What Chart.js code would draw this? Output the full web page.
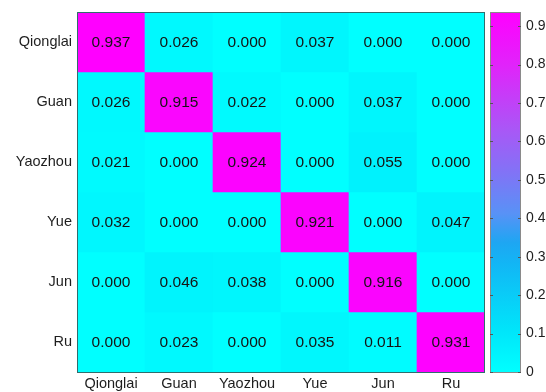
<!DOCTYPE html>
<html>
<head>
<meta charset="utf-8">
<script src="https://cdn.jsdelivr.net/npm/chart.js@4/dist/chart.umd.min.js"></script>
<style>
  html, body { margin: 0; padding: 0; background: #fff; }
  #wrap { width: 546px; height: 392px; }
</style>
</head>
<body>
<div id="wrap"><canvas id="cm" width="546" height="392"></canvas></div>
<script>
// Kiln classes (rows = actual, columns = predicted)
const categories = ['Qionglai', 'Guan', 'Yaozhou', 'Yue', 'Jun', 'Ru'];
const rowQionglai = [0.937, 0.026, 0.000, 0.037, 0.000, 0.000];
const rowGuan     = [0.026, 0.915, 0.022, 0.000, 0.037, 0.000];
const rowYaozhou  = [0.021, 0.000, 0.924, 0.000, 0.055, 0.000];
const rowYue      = [0.032, 0.000, 0.000, 0.921, 0.000, 0.047];
const rowJun      = [0.000, 0.046, 0.038, 0.000, 0.916, 0.000];
const rowRu       = [0.000, 0.023, 0.000, 0.035, 0.011, 0.931];
const colorbarTicks = [0, 0.1, 0.2, 0.3, 0.4, 0.5, 0.6, 0.7, 0.8, 0.9];

const rows = [rowQionglai, rowGuan, rowYaozhou, rowYue, rowJun, rowRu];
const vmax = Math.max(...rows.flat());

// colormap: fraction of range -> rgb (cyan through blue/violet to magenta)
const cmapStops = [
  [0.00, [0, 255, 255]],
  [0.12, [0, 228, 250]],
  [0.30, [18, 182, 245]],
  [0.36, [30, 166, 242]],
  [0.44, [88, 146, 246]],
  [0.55, [128, 116, 246]],
  [0.67, [168, 88, 246]],
  [0.85, [224, 36, 250]],
  [1.00, [255, 0, 255]]
];
function cmap(t) {
  t = Math.max(0, Math.min(1, t));
  for (let i = 1; i < cmapStops.length; i++) {
    const [t1, c1] = cmapStops[i];
    const [t0, c0] = cmapStops[i - 1];
    if (t <= t1) {
      const f = (t - t0) / (t1 - t0);
      const c = c0.map((a, k) => Math.round(a + (c1[k] - a) * f));
      return `rgb(${c[0]},${c[1]},${c[2]})`;
    }
  }
  const c = cmapStops[cmapStops.length - 1][1];
  return `rgb(${c[0]},${c[1]},${c[2]})`;
}

// one floating-bar dataset per matrix row, spanning [r, r+1] on the row axis
const datasets = rows.map((vals, r) => ({
  label: categories[r],
  data: vals.map(() => [r, r + 1]),
  cellValues: vals,
  backgroundColor: vals.map(v => cmap(v / vmax)),
  borderWidth: 0,
  barPercentage: 1,
  categoryPercentage: 1,
  grouped: false
}));

const FONT = 'Liberation Sans, Arial, sans-serif';

const cellText = {
  id: 'cellText',
  afterDatasetsDraw(chart) {
    const ctx = chart.ctx;
    ctx.save();
    ctx.font = `15.5px ${FONT}`;
    ctx.fillStyle = '#141414';
    ctx.textAlign = 'center';
    ctx.textBaseline = 'middle';
    chart.data.datasets.forEach((ds, di) => {
      chart.getDatasetMeta(di).data.forEach((el, j) => {
        ctx.fillText(ds.cellValues[j].toFixed(3), el.x, (el.y + el.base) / 2 + 1);
      });
    });
    const a = chart.chartArea;
    ctx.strokeStyle = '#2f6e6e';
    ctx.lineWidth = 1;
    ctx.strokeRect(a.left + 0.5, a.top + 0.5, a.right - a.left - 1, a.bottom - a.top);
    ctx.restore();
  }
};

const colorbar = {
  id: 'colorbar',
  afterDraw(chart) {
    const ctx = chart.ctx;
    const s = chart.scales.cb;
    const a = chart.chartArea;
    const x0 = a.right + 5, x1 = a.right + 36;
    const yb = s.getPixelForValue(0), yt = s.getPixelForValue(vmax);
    ctx.save();
    const g = ctx.createLinearGradient(0, yb, 0, yt);
    cmapStops.forEach(([t]) => g.addColorStop(t, cmap(t)));
    ctx.fillStyle = g;
    ctx.fillRect(x0, yt, x1 - x0, yb - yt);
    ctx.strokeStyle = '#8a8a8a';
    ctx.lineWidth = 1;
    ctx.strokeRect(x0 + 0.5, yt + 0.5, x1 - x0 - 1, yb - yt);
    ctx.strokeStyle = '#555';
    colorbarTicks.forEach(v => {
      const y = Math.round(s.getPixelForValue(v)) + 0.5;
      ctx.beginPath();
      ctx.moveTo(x0, y); ctx.lineTo(x0 + 3, y);
      ctx.moveTo(x1 - 3, y); ctx.lineTo(x1, y);
      ctx.stroke();
    });
    ctx.restore();
  }
};

function noScalePadding(s) {
  s.paddingTop = 0; s.paddingBottom = 0; s.paddingLeft = 0; s.paddingRight = 0;
}

new Chart(document.getElementById('cm'), {
  type: 'bar',
  data: { labels: categories, datasets },
  options: {
    responsive: false,
    animation: false,
    layout: { padding: { top: 12, left: 0, right: 0, bottom: 0 } },
    plugins: { legend: { display: false }, tooltip: { enabled: false } },
    scales: {
      x: {
        type: 'category',
        grid: { display: false, drawTicks: false },
        border: { display: false },
        ticks: { color: '#1e1e1e', font: { family: FONT, size: 14.5 }, padding: 3, maxRotation: 0 },
        afterFit(s) { s.height = 20; noScalePadding(s); }
      },
      y: {
        type: 'linear',
        reverse: true,
        min: 0,
        max: categories.length,
        grid: { display: false, drawTicks: false },
        border: { display: false },
        afterBuildTicks(s) { s.ticks = categories.map((_, i) => ({ value: i + 0.5 })); },
        ticks: {
          color: '#1e1e1e',
          font: { family: FONT, size: 14.5 },
          padding: 5,
          callback: v => categories[Math.floor(v)]
        },
        afterFit(s) { s.width = 77; noScalePadding(s); }
      },
      cb: {
        type: 'linear',
        position: 'right',
        min: 0,
        max: vmax,
        grid: { display: false, drawTicks: false },
        border: { display: false },
        afterBuildTicks(s) { s.ticks = colorbarTicks.map(v => ({ value: v })); },
        ticks: {
          color: '#1e1e1e',
          font: { family: FONT, size: 14 },
          padding: 41,
          callback: v => (v === 0 ? '0' : v.toFixed(1))
        },
        afterFit(s) { s.width = 61; noScalePadding(s); }
      }
    }
  },
  plugins: [cellText, colorbar]
});
</script>
</body>
</html>
